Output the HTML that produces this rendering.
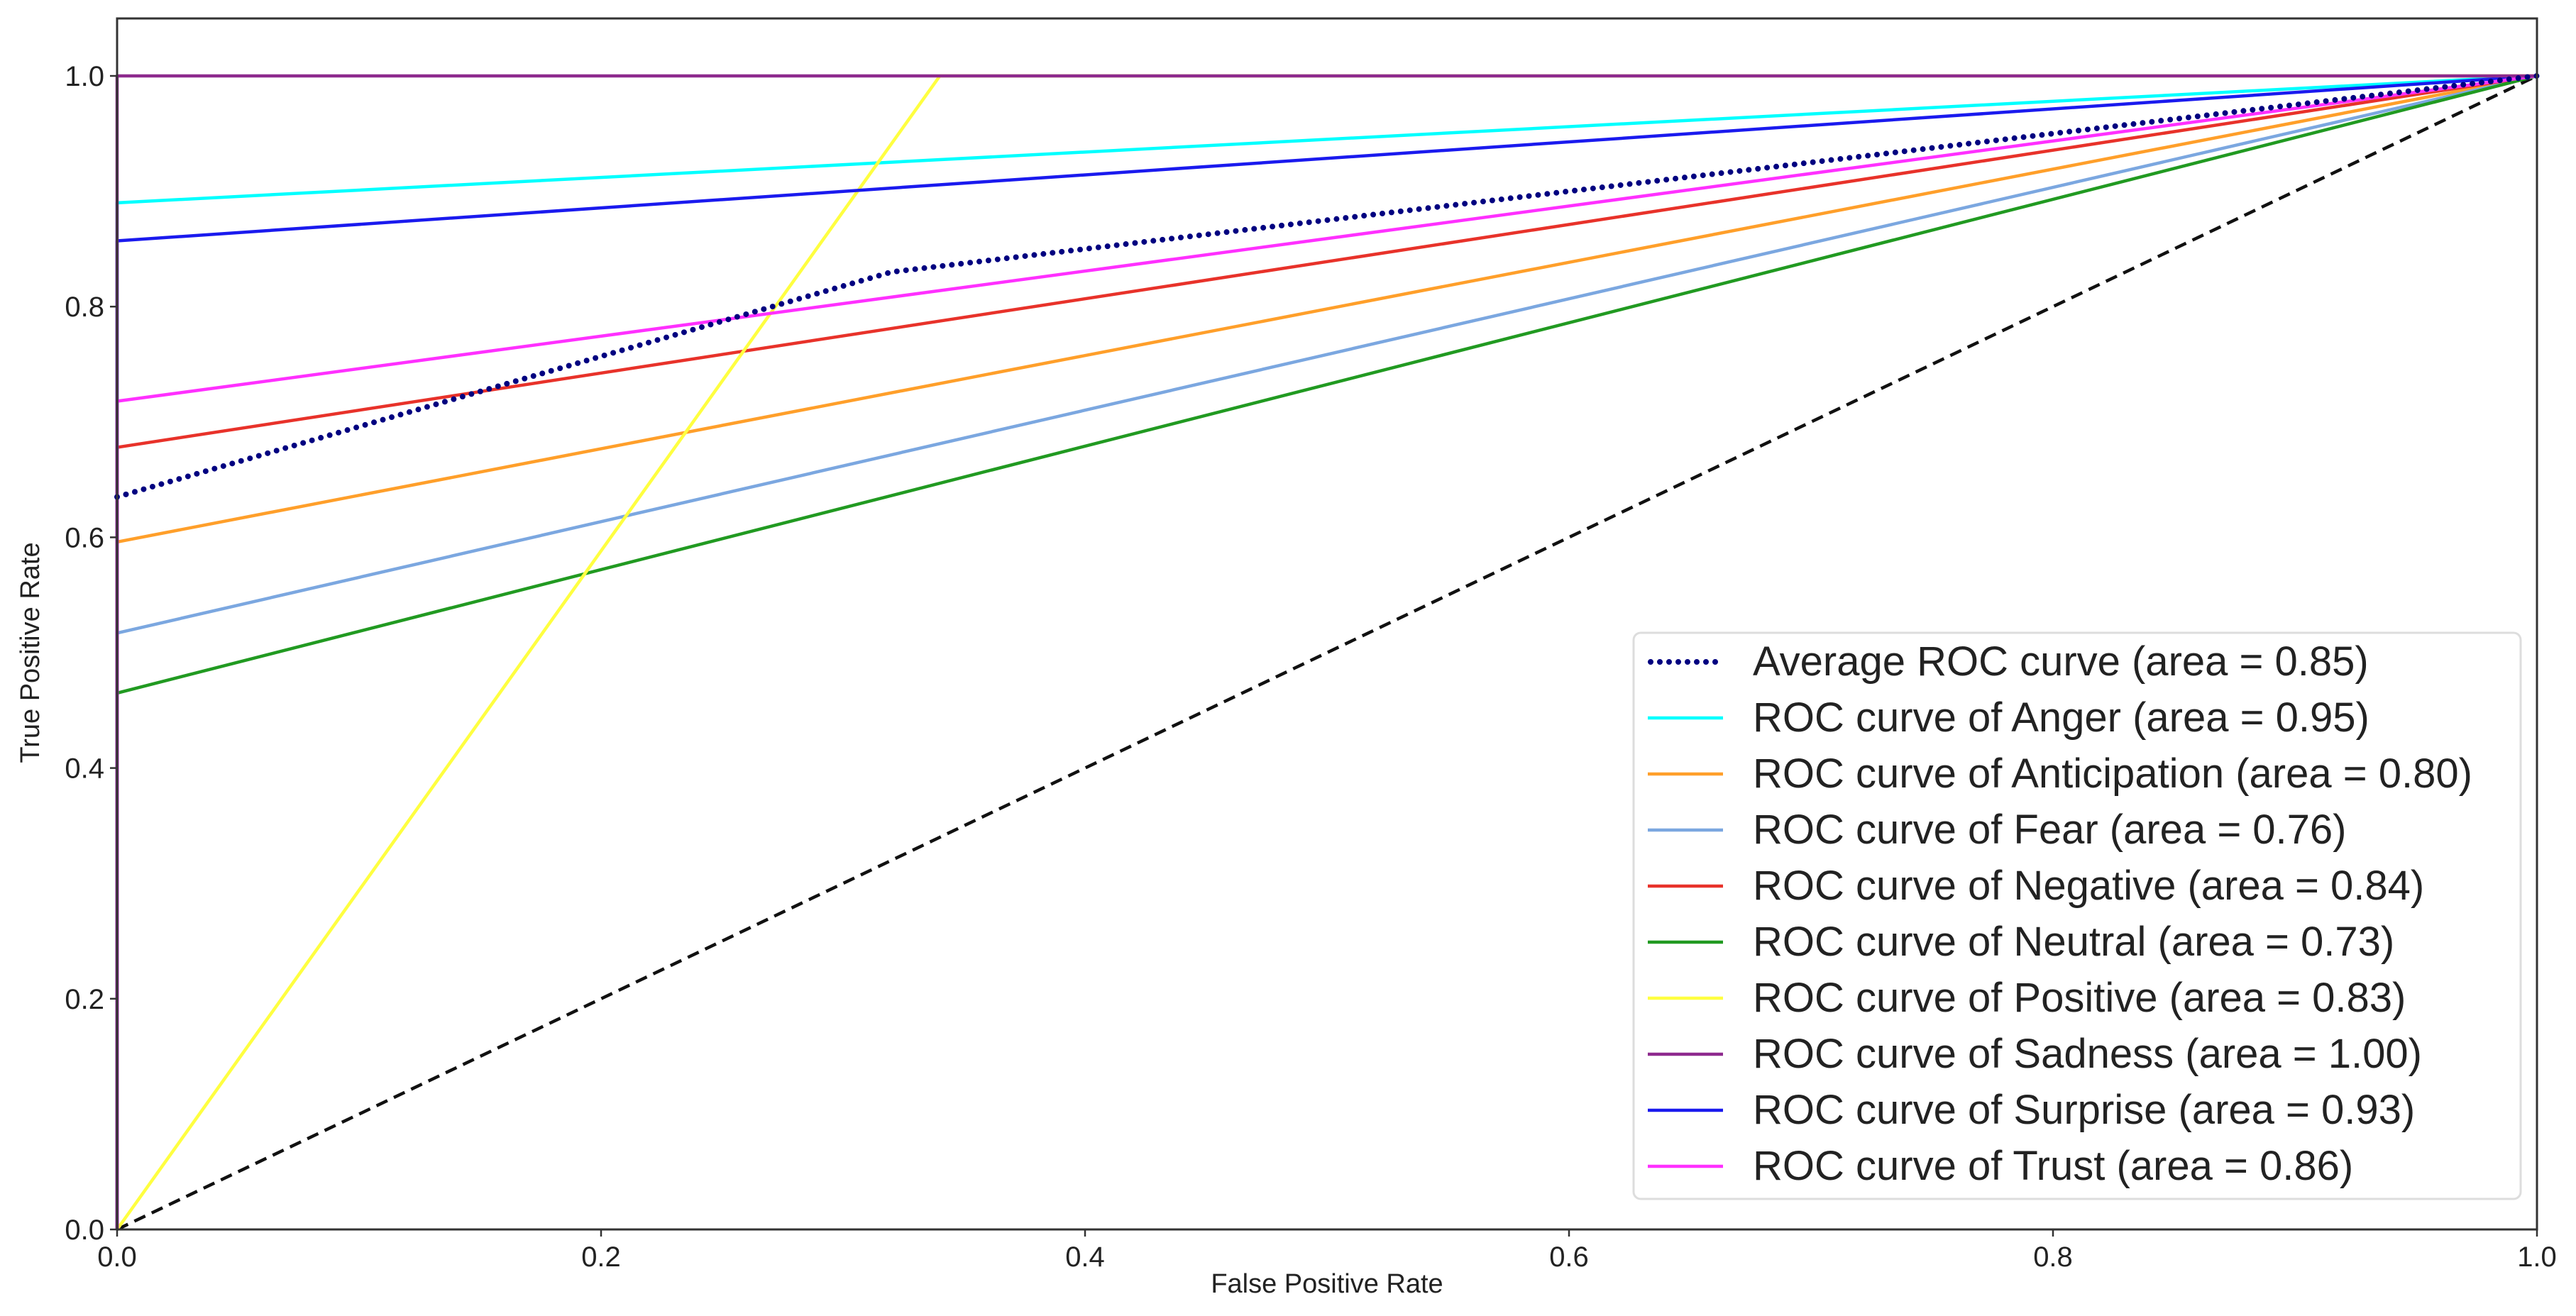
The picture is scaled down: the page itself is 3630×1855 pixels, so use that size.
<!DOCTYPE html>
<html><head><meta charset="utf-8"><style>
html,body{margin:0;padding:0;background:#fff;}
svg{display:block;font-family:"Liberation Sans",sans-serif;}
</style></head><body>
<svg id="chart" width="3630" height="1855" viewBox="0 0 3630 1855" xmlns="http://www.w3.org/2000/svg">
<g id="plot"></g>
<g id="axes"></g>
<g id="legend"></g>
</svg>
<script>
const seriesNames = ["Average ROC curve","Anger","Anticipation","Fear","Negative","Neutral","Positive","Sadness","Surprise","Trust"];
const seriesAreas = ["0.85","0.95","0.80","0.76","0.84","0.73","0.83","1.00","0.93","0.86"];
const seriesColors = ["#000080","#00ffff","#ff9f2a","#7ba7e0","#e8322a","#219a21","#ffff40","#8e2a8e","#1a1aee","#ff30ff"];
const seriesFpr = [
  [0,0.32,1],[0,0,1],[0,0,1],[0,0,1],[0,0,1],[0,0,1],[0,0.34,1],[0,0,1],[0,0,1],[0,0,1]
];
const seriesTpr = [
  [0.635,0.83,1],[0,0.89,1],[0,0.596,1],[0,0.517,1],[0,0.678,1],[0,0.465,1],[0,1,1],[0,1,1],[0,0.857,1],[0,0.718,1]
];
const xTicks = [0,0.2,0.4,0.6,0.8,1.0];
const yTicks = [0,0.2,0.4,0.6,0.8,1.0];
const drawOrder = [1,2,3,4,5,6,8,9,7,0];

const NS="http://www.w3.org/2000/svg";
const X0=165,X1=3575,Y0=1733,Y1=107;
const sx=v=>X0+(X1-X0)*v;
const sy=v=>Y0-(Y0-Y1)*v;
function mk(t,a,p){const e=document.createElementNS(NS,t);for(const k in a)e.setAttribute(k,a[k]);p.appendChild(e);return e;}
const plot=document.getElementById('plot'),axes=document.getElementById('axes'),legend=document.getElementById('legend');

const diag=mk('line',{x1:sx(0),y1:sy(0),x2:sx(1),y2:sy(1),stroke:'#111','stroke-width':4.5,'stroke-dasharray':'17 10'},plot);



drawOrder.forEach(i=>{
  const pts=seriesFpr[i].map((f,j)=>sx(f)+','+sy(seriesTpr[i][j])).join(' ');
  const attrs={points:pts,fill:'none',stroke:seriesColors[i],'stroke-width':4.5,'stroke-linejoin':'round'};
  if(i===0){attrs['stroke-dasharray']='0 13';attrs['stroke-linecap']='round';attrs['stroke-width']=8;}
  const pl=mk('polyline',attrs,plot);
  
  
});

const fr=mk('rect',{x:X0,y:26,width:X1-X0,height:Y0-26,fill:'none',stroke:'#333','stroke-width':3},axes);



xTicks.forEach(t=>{
  mk('line',{x1:sx(t),y1:Y0,x2:sx(t),y2:Y0+10,stroke:'#333','stroke-width':2.5},axes);
  const tx=mk('text',{x:sx(t),y:Y0+52,'font-size':40,'text-anchor':'middle',fill:'#222'},axes);
  tx.textContent=t.toFixed(1);
  
  
});
yTicks.forEach(t=>{
  mk('line',{x1:X0-10,y1:sy(t),x2:X0,y2:sy(t),stroke:'#333','stroke-width':2.5},axes);
  const tx=mk('text',{x:X0-18,y:sy(t)+14,'font-size':40,'text-anchor':'end',fill:'#222'},axes);
  tx.textContent=t.toFixed(1);
  
  
});
const xl=mk('text',{x:(X0+X1)/2,y:1822,'font-size':38,'text-anchor':'middle',fill:'#222'},axes);
xl.textContent='False Positive Rate';


const yl=mk('text',{x:0,y:0,'font-size':38,'text-anchor':'middle',fill:'#222',transform:'translate(55,920) rotate(-90)'},axes);
yl.textContent='True Positive Rate';



const lb=mk('rect',{x:2302,y:892,width:1250,height:798,rx:10,fill:'#fff','fill-opacity':0.9,stroke:'#ddd','stroke-width':3},legend);


seriesNames.forEach((n,i)=>{
  const y=933+i*79;
  const g=mk('g',{},legend);
  
  
  const a={x1:2322,y1:y,x2:2428,y2:y,stroke:seriesColors[i],'stroke-width':4.5};
  if(i===0){a['stroke-dasharray']='0 13';a['stroke-linecap']='round';a.x1=2326;a['stroke-width']=8;}
  mk('line',a,g);
  const t=mk('text',{x:2470,y:y+19,'font-size':58,fill:'#222'},g);
  t.textContent=(i===0?n:'ROC curve of '+n)+' (area = '+seriesAreas[i]+')';
});
</script>
</body></html>
